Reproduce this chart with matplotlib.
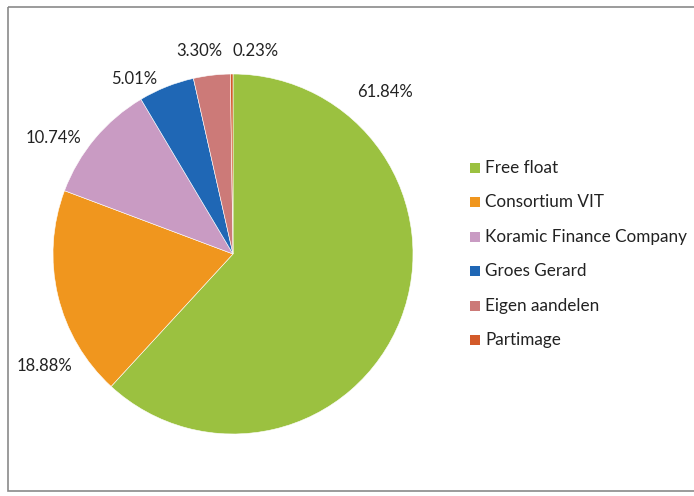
import matplotlib.pyplot as plt
import matplotlib.patches as mpatches

## data
names = ["Free float", "Consortium VIT", "Koramic Finance Company",
         "Groes Gerard", "Eigen aandelen", "Partimage"]
shares = [61.84, 18.88, 10.74, 5.01, 3.30, 0.23]
colors = ["#9BC140", "#F0961E", "#C99BC3", "#1F67B5", "#CC7A78", "#D35A2A"]

plt.rcParams["font.family"] = ["Lato", "DejaVu Sans"]

fig = plt.figure(figsize=(6.94, 4.96), dpi=100)
ax = fig.add_axes([0, 0, 1, 1])

# pie (clockwise from the top); y axis is flipped so counterclock=True draws clockwise
cx, cy, r = 233, 254, 180
wedges, _ = ax.pie(shares, colors=colors, startangle=-90, counterclock=True,
                   center=(cx, cy), radius=r, frame=True,
                   wedgeprops=dict(edgecolor="white", linewidth=0.4))
ax.set_xlim(0, 694)
ax.set_ylim(496, 0)
ax.axis("off")

# outer frame
ax.add_patch(mpatches.Rectangle((8, 7), 700, 484, fill=False,
                                edgecolor="#8a8a8a", linewidth=1.2))

# percentage labels
label_pos = [(385, 92), (44, 366), (53, 138), (134, 79), (199, 51), (256, 51)]
for (x, y), v in zip(label_pos, shares):
    ax.text(x, y, "{:.2f}%".format(v), fontsize=12, ha="center", va="center",
            color="#222222")

# legend
for i, (n, c) in enumerate(zip(names, colors)):
    y = 168 + 34.4 * i
    ax.add_patch(mpatches.Rectangle((470, y - 5), 10, 10, facecolor=c,
                                    edgecolor="none"))
    ax.text(485, y, n, fontsize=12.3, va="center", ha="left", color="#222222")

plt.savefig("out.png", dpi=100)
